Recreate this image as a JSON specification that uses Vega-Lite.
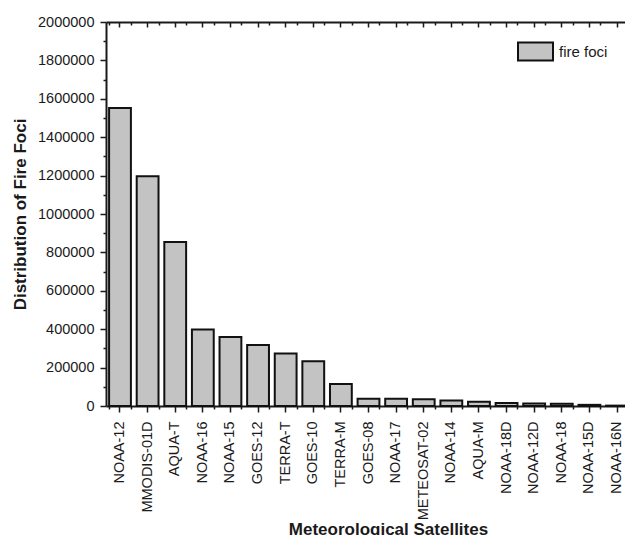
{
  "$schema": "https://vega.github.io/schema/vega-lite/v6.json",
  "autosize": {"type": "none"},
  "padding": {"left": 106, "top": 22, "right": 0, "bottom": 130},
  "width": 525,
  "height": 384,
  "background": "white",
  "config": {
    "view": {"stroke": null},
    "font": "Liberation Sans",
    "axis": {
      "labelFont": "Liberation Sans",
      "titleFont": "Liberation Sans",
      "labelColor": "#1a1a1a",
      "titleColor": "#1a1a1a",
      "domainColor": "#1a1a1a",
      "tickColor": "#1a1a1a",
      "domainWidth": 2,
      "tickWidth": 1.5,
      "grid": false
    }
  },
  "data": {
    "values": [
      {"satellite": "NOAA-12", "foci": 1552000, "series": "fire foci"},
      {"satellite": "MMODIS-01D", "foci": 1196000, "series": "fire foci"},
      {"satellite": "AQUA-T", "foci": 854000, "series": "fire foci"},
      {"satellite": "NOAA-16", "foci": 398000, "series": "fire foci"},
      {"satellite": "NOAA-15", "foci": 360000, "series": "fire foci"},
      {"satellite": "GOES-12", "foci": 318000, "series": "fire foci"},
      {"satellite": "TERRA-T", "foci": 274000, "series": "fire foci"},
      {"satellite": "GOES-10", "foci": 233000, "series": "fire foci"},
      {"satellite": "TERRA-M", "foci": 114000, "series": "fire foci"},
      {"satellite": "GOES-08", "foci": 38000, "series": "fire foci"},
      {"satellite": "NOAA-17", "foci": 38000, "series": "fire foci"},
      {"satellite": "METEOSAT-02", "foci": 35000, "series": "fire foci"},
      {"satellite": "NOAA-14", "foci": 28000, "series": "fire foci"},
      {"satellite": "AQUA-M", "foci": 22000, "series": "fire foci"},
      {"satellite": "NOAA-18D", "foci": 15000, "series": "fire foci"},
      {"satellite": "NOAA-12D", "foci": 13000, "series": "fire foci"},
      {"satellite": "NOAA-18", "foci": 12000, "series": "fire foci"},
      {"satellite": "NOAA-15D", "foci": 6000, "series": "fire foci"},
      {"satellite": "NOAA-16N", "foci": 2000, "series": "fire foci"}
    ]
  },
  "resolve": {"axis": {"x": "independent", "y": "independent"}},
  "layer": [
    {
      "mark": {"type": "bar", "stroke": "#111", "strokeWidth": 2},
      "encoding": {
        "x": {
          "field": "satellite", "type": "nominal", "sort": null,
          "scale": {"paddingInner": 0.21, "paddingOuter": 0.112},
          "axis": {
            "orient": "bottom", "labelAngle": -90, "labelFontSize": 14.5,
            "labelPadding": 9, "tickSize": 6,
            "title": "Meteorological Satellites", "titleFontSize": 17, "titleFontWeight": "bold",
            "titleX": 282, "titleY": 128, "titleBaseline": "alphabetic", "titleAlign": "center"
          }
        },
        "y": {
          "field": "foci", "type": "quantitative",
          "scale": {"domain": [0, 2000000], "nice": false, "zero": true},
          "axis": {
            "orient": "left",
            "values": [0, 200000, 400000, 600000, 800000, 1000000, 1200000, 1400000, 1600000, 1800000, 2000000],
            "format": "d", "labelFontSize": 14.5, "tickSize": 6, "labelPadding": 6,
            "title": "Distribution of Fire Foci", "titleFontSize": 17, "titleFontWeight": "bold",
            "titleX": -81, "titleY": 192, "titleAngle": -90, "titleBaseline": "alphabetic", "titleAlign": "center"
          }
        },
        "fill": {
          "field": "series", "type": "nominal",
          "scale": {"range": ["#c3c3c3"]},
          "legend": {
            "title": null, "orient": "none", "legendX": 411, "legendY": 11,
            "padding": 0, "labelFontSize": 15, "labelFont": "Liberation Sans", "labelColor": "#1a1a1a",
            "labelOffset": 5,
            "symbolType": "M-1,-0.514H1V0.514H-1Z", "symbolSize": 1225,
            "symbolStrokeColor": "#111", "symbolStrokeWidth": 2
          }
        }
      }
    },
    {
      "mark": {"type": "bar", "opacity": 0},
      "encoding": {
        "x": {
          "field": "satellite", "type": "nominal", "sort": null,
          "axis": {"orient": "bottom", "tickBand": "extent", "labels": false, "tickSize": 3, "domain": false, "title": null}
        },
        "y": {
          "field": "foci", "type": "quantitative",
          "axis": {
            "orient": "left", "labels": false, "tickSize": 3, "domain": false, "title": null,
            "values": [100000, 300000, 500000, 700000, 900000, 1100000, 1300000, 1500000, 1700000, 1900000]
          }
        }
      }
    },
    {
      "mark": {"type": "bar", "opacity": 0},
      "encoding": {
        "x": {
          "field": "satellite", "type": "nominal", "sort": null,
          "axis": {"orient": "top", "labels": false, "tickSize": -5, "title": null}
        },
        "y": {
          "field": "foci", "type": "quantitative",
          "axis": {
            "orient": "right", "labels": false, "tickSize": -5, "title": null,
            "values": [0, 200000, 400000, 600000, 800000, 1000000, 1200000, 1400000, 1600000, 1800000, 2000000]
          }
        }
      }
    },
    {
      "mark": {"type": "bar", "opacity": 0},
      "encoding": {
        "x": {
          "field": "satellite", "type": "nominal", "sort": null,
          "axis": {"orient": "top", "tickBand": "extent", "labels": false, "tickSize": -3, "domain": false, "title": null}
        }
      }
    }
  ]
}
